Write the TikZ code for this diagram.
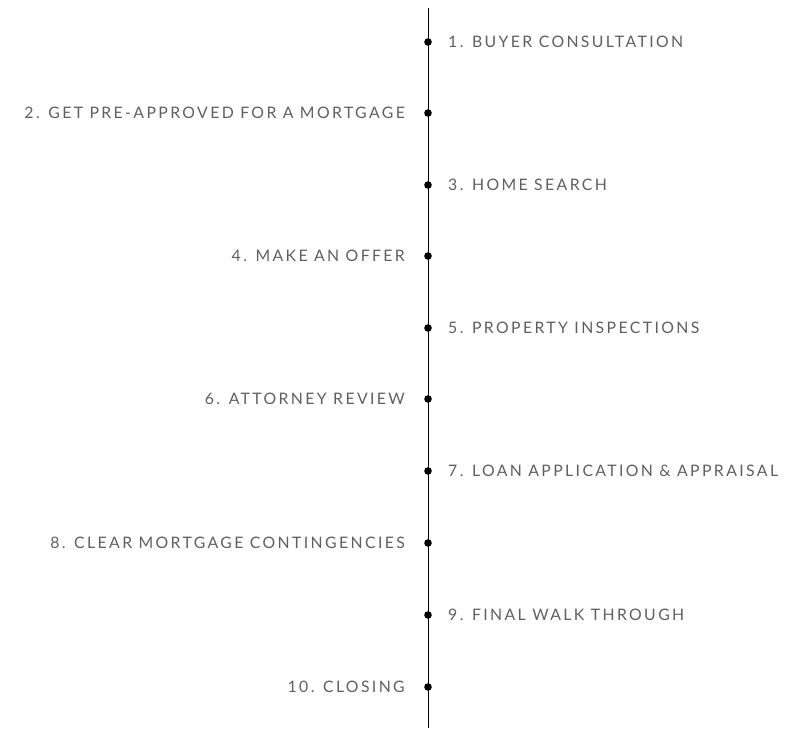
\documentclass[tikz,border=0pt]{standalone}
\usepackage{fontspec}
\setmainfont{Lato}[LetterSpace=15]
\usetikzlibrary{positioning}
\definecolor{stepgray}{RGB}{95,95,95}
\tikzset{
  stepdot/.style={circle,fill=black,inner sep=0pt,minimum size=6.5pt},
  steptext/.style={text=stepgray,font=\fontsize{13.5}{15}\selectfont,inner sep=0pt}
}
\begin{document}
\begin{tikzpicture}[x=0.03cm,y=-0.03cm]
  \useasboundingbox (0,0) rectangle (800,737);
  \coordinate (top) at (428,8);
  \coordinate (bot) at (428,728);
  \draw[line width=0.7pt] (top) -- (bot);
  \foreach \n/\y/\side/\txt in {
      1/42/R/{1. BUYER CONSULTATION},
      2/113/L/{2. GET PRE-APPROVED FOR A MORTGAGE},
      3/185/R/{3. HOME SEARCH},
      4/256/L/{4. MAKE AN OFFER},
      5/328/R/{5. PROPERTY INSPECTIONS},
      6/399/L/{6. ATTORNEY REVIEW},
      7/471/R/{7. LOAN APPLICATION \& APPRAISAL},
      8/543/L/{8. CLEAR MORTGAGE CONTINGENCIES},
      9/615/R/{9. FINAL WALK THROUGH},
      10/687/L/{10. CLOSING}} {
    \node[stepdot] (d\n) at (428,\y) {};
    \if\side R
      \node[steptext,anchor=west] (t\n) at (448,\y) {\txt};
    \else
      \node[steptext,anchor=east] (t\n) at (405,\y) {\txt};
    \fi
  }
\end{tikzpicture}
\end{document}
